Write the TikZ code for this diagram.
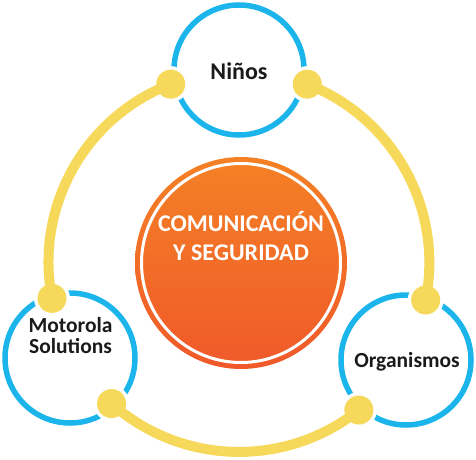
\documentclass[tikz,border=0pt]{standalone}
\usepackage{fontspec}
\setmainfont{Carlito}
\definecolor{ringblue}{HTML}{1BB5EC}
\definecolor{dotyellow}{HTML}{F6D95B}
\definecolor{orTop}{HTML}{F48125}
\definecolor{orBot}{HTML}{F0592A}
\definecolor{txt}{HTML}{1A1A1A}
\tikzset{
  ring/.style={draw=ringblue, line width=5.5pt, circle, minimum size=130pt, inner sep=0pt},
  halo/.style={fill=white, circle, minimum size=36pt, inner sep=0pt},
  ydot/.style={fill=dotyellow, circle, minimum size=29pt, inner sep=0pt},
  yarc/.style={draw=dotyellow, line width=10pt, bend right=40, looseness=0.965},
  lbl/.style={text=txt, font=\bfseries\fontsize{21.5}{21}\selectfont, align=center, anchor=base},
}
\begin{document}
\begin{tikzpicture}[x=1pt,y=1pt]
\useasboundingbox (0,0) rectangle (476,459);
\coordinate (C) at (239,197);
% small circles
\node[ring] (top) at (239,389) {};
\node[ring] (left) at (70,101) {};
\node[ring] (right) at (406,99) {};
% dot positions
\coordinate (p1) at ([shift={(111:190.5)}]C);
\coordinate (p2) at ([shift={(191:190.5)}]C);
\coordinate (p3) at ([shift={(228:190.5)}]C);
\coordinate (p4) at ([shift={(309:190.5)}]C);
\coordinate (p5) at ([shift={(348.5:190.5)}]C);
\coordinate (p6) at ([shift={(69:190.5)}]C);
\foreach \p in {p1,p2,p3,p4,p5,p6} \node[halo] (h\p) at (\p) {};
\draw[yarc] (p1) to (p2);
\draw[yarc] (p3) to (p4);
\draw[yarc] (p5) to (p6);
\foreach \p in {p1,p2,p3,p4,p5,p6} \node[ydot] (d\p) at (\p) {};
% central circle
\shade[top color=orTop, bottom color=orBot] (241,196) circle[radius=106];
\node[circle, draw=white, line width=3pt, minimum size=199pt, inner sep=0pt] (core) at (241,196) {};
\node[lbl, text=white, font=\bfseries\fontsize{24}{29}\selectfont] (ctext) at (241,199) {COMUNICACIÓN\\Y SEGURIDAD};
% labels
\node[lbl, font=\bfseries\fontsize{24}{24}\selectfont] (tn) at (239,380) {Niños};
\node[lbl] (tl) at (70.5,106) {Motorola\\Solutions};
\node[lbl] (tr) at (407,92) {Organismos};
\end{tikzpicture}
\end{document}
